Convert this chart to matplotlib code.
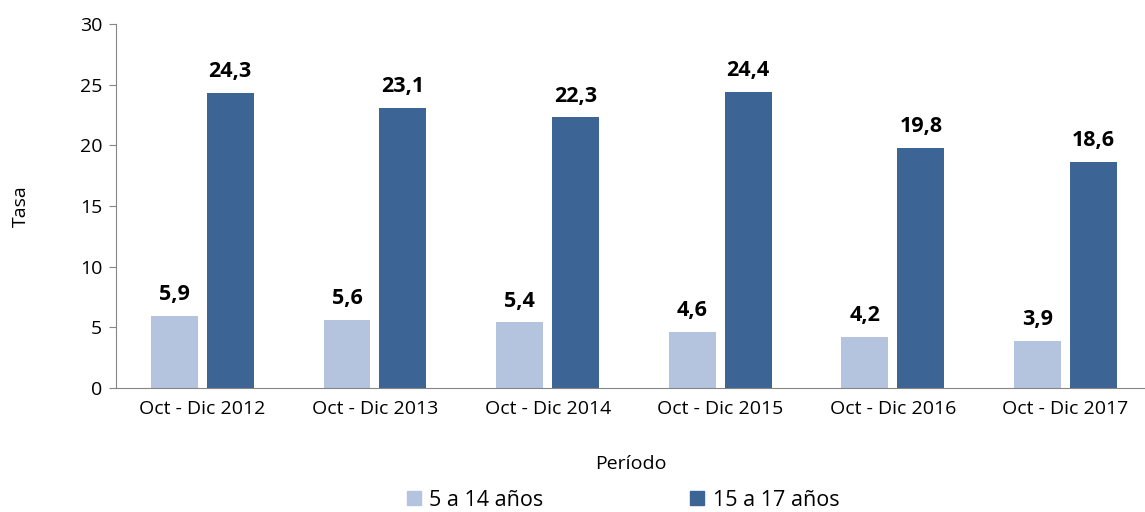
import matplotlib
matplotlib.use("Agg")
import matplotlib.pyplot as plt
import numpy as np
from matplotlib.patches import Patch

periodos = ["Oct - Dic 2012", "Oct - Dic 2013", "Oct - Dic 2014",
            "Oct - Dic 2015", "Oct - Dic 2016", "Oct - Dic 2017"]
tasa_5_14 = [5.9, 5.6, 5.4, 4.6, 4.2, 3.9]
tasa_15_17 = [24.3, 23.1, 22.3, 24.4, 19.8, 18.6]
series_labels = ["5 a 14 años", "15 a 17 años"]

COLOR_LIGHT = "#b4c3de"
COLOR_DARK = "#3c6494"
AXIS_GRAY = "#868686"

plt.rcParams["font.family"] = ["Open Sans", "DejaVu Sans"]


def fmt_coma(v):
    return f"{v:.1f}".replace(".", ",")


fig = plt.figure(figsize=(11.45, 5.12), dpi=100)
ax = fig.add_axes([116 / 1145, 1 - 388 / 512, (1145 - 116) / 1145, (388 - 24) / 512])

x = np.arange(len(periodos))
w = 0.272
off = 0.162

ax.bar(x - off, tasa_5_14, width=w, color=COLOR_LIGHT, zorder=2)
ax.bar(x + off, tasa_15_17, width=w, color=COLOR_DARK, zorder=2)

for xi, v in zip(x - off, tasa_5_14):
    ax.text(xi, v + 0.9, fmt_coma(v), ha="center", va="bottom",
            fontsize=15.5, fontweight="bold")
for xi, v in zip(x + off, tasa_15_17):
    ax.text(xi, v + 0.9, fmt_coma(v), ha="center", va="bottom",
            fontsize=15.5, fontweight="bold")

ax.set_ylim(0, 30)
ax.set_xlim(-0.5, 5.46)
ax.set_yticks(range(0, 31, 5))
ax.set_xticks(x)
ax.set_xticklabels(periodos)
ax.tick_params(axis="x", length=0, labelsize=14, pad=9)
ax.tick_params(axis="y", length=5, color=AXIS_GRAY, labelsize=14, pad=5)

for s in ["top", "right"]:
    ax.spines[s].set_visible(False)
ax.spines["left"].set_color(AXIS_GRAY)
ax.spines["bottom"].set_color(AXIS_GRAY)

ax.set_ylabel("Tasa", fontsize=14, labelpad=36)
ax.set_xlabel("Período", fontsize=14, labelpad=26)

handles = [Patch(color=COLOR_LIGHT), Patch(color=COLOR_DARK)]
fig.legend(handles, series_labels, loc="center", bbox_to_anchor=(623 / 1145, 1 - 500 / 512),
           ncol=2, frameon=False, fontsize=15.5, columnspacing=6.8,
           handlelength=0.65, handleheight=0.65, handletextpad=0.4)

fig.savefig("out.png", dpi=100)
